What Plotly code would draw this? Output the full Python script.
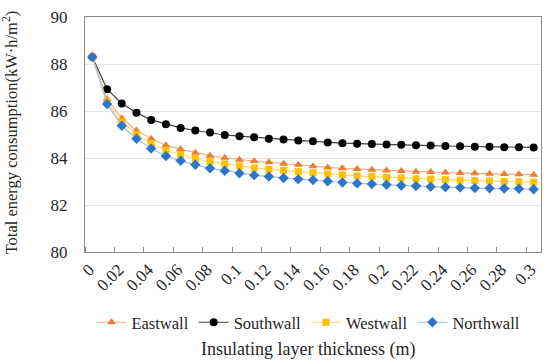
import plotly.graph_objects as go

thickness = [round(i * 0.01, 2) for i in range(31)]
tick_labels = ["0", "0.02", "0.04", "0.06", "0.08", "0.1", "0.12", "0.14", "0.16",
               "0.18", "0.2", "0.22", "0.24", "0.26", "0.28", "0.3"]

eastwall = [88.3, 86.5, 85.69, 85.17, 84.82, 84.54, 84.37, 84.22, 84.1, 84.01, 83.93,
            83.87, 83.82, 83.76, 83.71, 83.65, 83.6, 83.56, 83.53, 83.5, 83.47, 83.45,
            83.42, 83.4, 83.38, 83.36, 83.35, 83.33, 83.32, 83.31, 83.29]
southwall = [88.3, 86.93, 86.32, 85.93, 85.62, 85.44, 85.28, 85.17, 85.08, 84.98, 84.93,
             84.88, 84.82, 84.79, 84.75, 84.71, 84.66, 84.63, 84.61, 84.6, 84.57, 84.56,
             84.54, 84.53, 84.51, 84.5, 84.48, 84.48, 84.46, 84.46, 84.45]
westwall = [88.3, 86.4, 85.54, 85.0, 84.61, 84.33, 84.15, 83.98, 83.85, 83.75, 83.66,
            83.58, 83.52, 83.47, 83.42, 83.37, 83.32, 83.28, 83.24, 83.21, 83.18, 83.15,
            83.12, 83.1, 83.08, 83.06, 83.04, 83.02, 83.0, 82.99, 82.97]
northwall = [88.3, 86.3, 85.37, 84.82, 84.4, 84.08, 83.88, 83.71, 83.56, 83.46, 83.35,
             83.27, 83.21, 83.15, 83.1, 83.06, 83.01, 82.96, 82.92, 82.89, 82.86, 82.83,
             82.81, 82.78, 82.76, 82.74, 82.72, 82.71, 82.7, 82.69, 82.67]

idx = list(range(len(thickness)))
FONT = "Times New Roman, Liberation Serif, serif"
TXT = "#262626"

series = [
    ("Eastwall", eastwall, "#F4B183", "#ED7D31", "triangle-up", 8),
    ("Southwall", southwall, "#404040", "#000000", "circle", 8),
    ("Westwall", westwall, "#FFD966", "#FFC000", "square", 7),
    ("Northwall", northwall, "#9DC3E6", "#2E75C8", "diamond", 8),
]

fig = go.Figure()
for name, vals, lc, mc, sym, sz in series:
    fig.add_trace(go.Scatter(
        x=idx, y=vals, name=name, mode="lines+markers",
        line=dict(color=lc, width=1.2),
        marker=dict(symbol=sym, size=sz, color=mc, line=dict(width=0)),
    ))

fig.update_layout(
    width=550, height=364,
    margin=dict(l=85, r=8, t=13, b=112),
    paper_bgcolor="white", plot_bgcolor="white",
    font=dict(family=FONT, size=17, color=TXT),
    showlegend=True,
    legend=dict(orientation="h", x=0.49, xanchor="center", y=-0.30, yanchor="middle",
                font=dict(family=FONT, size=16.5, color=TXT),
                itemwidth=30, tracegroupgap=0, bgcolor="rgba(0,0,0,0)"),
    xaxis=dict(
        range=[-0.5, 30.5],
        tickmode="array",
        tickvals=idx[::2],
        ticktext=tick_labels,
        tickangle=-45,
        ticks="", showgrid=False, zeroline=False,
        showline=True, linecolor="#8C8C8C", linewidth=1, mirror=True,
        tickfont=dict(family=FONT, size=17, color=TXT),
        ticklabelshift=-3,
        minor=dict(tickmode="array", tickvals=[i - 0.5 for i in idx[::2]] + [30.5],
                   ticks="inside", ticklen=5, tickcolor="#8C8C8C", showgrid=False),
    ),
    yaxis=dict(
        range=[80, 90],
        tickmode="array", tickvals=[80, 82, 84, 86, 88, 90],
        ticks="outside", ticklen=13, tickcolor="rgba(0,0,0,0)",
        showgrid=True, gridcolor="#E3E3E3", gridwidth=1, zeroline=False,
        showline=True, linecolor="#8C8C8C", linewidth=1, mirror=True,
        tickfont=dict(family=FONT, size=17, color=TXT),
    ),
    annotations=[
        dict(text="Total energy consumption(kW·h/m<sup>2</sup>)", textangle=-90,
             xref="paper", yref="paper", x=-0.164, y=0.51, xanchor="center", yanchor="middle",
             showarrow=False, font=dict(family=FONT, size=16.5, color=TXT)),
        dict(text="Insulating layer thickness (m)",
             xref="paper", yref="paper", x=0.49, y=-0.415, xanchor="center", yanchor="middle",
             showarrow=False, font=dict(family=FONT, size=18, color=TXT)),
    ],
)

fig.write_html("out.html", config={"displayModeBar": False},
               post_script="document.body.style.margin='0px';")
